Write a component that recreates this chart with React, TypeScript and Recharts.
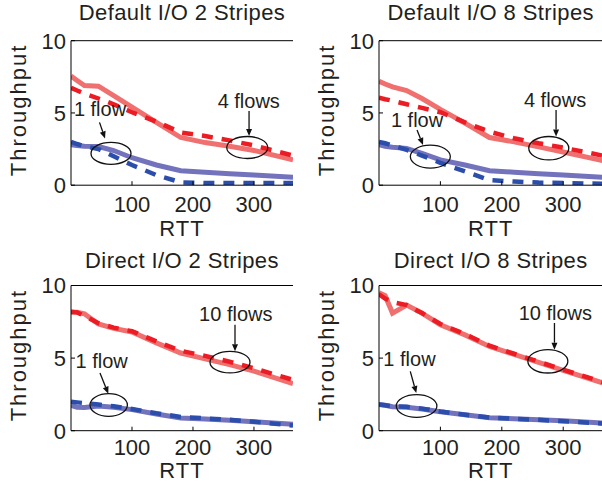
import React from 'react';
import { LineChart, Line, XAxis, YAxis, ReferenceDot } from 'recharts';

// ---------- data ----------
const RTT = [0, 10, 22, 45, 70, 100, 140, 180, 220, 260, 300, 364];
const X_TICKS = [100, 200, 300];
const Y_TICKS = [0, 5, 10];
const X_DOMAIN: [number, number] = [0, 364];
const Y_DOMAIN: [number, number] = [0, 10];

const TITLES = ['Default I/O 2 Stripes', 'Default I/O 8 Stripes', 'Direct I/O 2 Stripes', 'Direct I/O 8 Stripes'];
const X_LABEL = 'RTT';
const Y_LABEL = 'Throughput';

// Default I/O 2 Stripes
const aRedSolid = [7.55, 7.25, 6.9, 6.85, 6.2, 5.4, 4.35, 3.3, 2.95, 2.7, 2.4, 1.75];
const aRedDash = [6.75, 6.55, 6.35, 6.0, 5.6, 5.05, 4.4, 3.65, 3.4, 3.1, 2.75, 2.05];
const aBlueSolid = [2.8, 2.75, 2.7, 2.68, 2.4, 1.9, 1.4, 1.0, 0.9, 0.8, 0.7, 0.55];
const aBlueDash = [3.0, 2.85, 2.7, 2.5, 2.0, 1.4, 0.7, 0.2, 0.15, 0.15, 0.15, 0.15];

// Default I/O 8 Stripes
const bRedSolid = [7.2, 7.0, 6.8, 6.55, 6.0, 5.25, 4.3, 3.3, 3.0, 2.65, 2.3, 1.7];
const bRedDash = [6.05, 5.95, 5.85, 5.6, 5.35, 5.05, 4.35, 3.7, 3.25, 2.9, 2.6, 2.05];
const bBlueSolid = [2.8, 2.7, 2.62, 2.55, 2.2, 1.75, 1.4, 1.0, 0.9, 0.8, 0.7, 0.55];
const bBlueDash = [3.0, 2.9, 2.75, 2.45, 2.05, 1.55, 0.95, 0.35, 0.25, 0.18, 0.15, 0.1];

// Direct I/O 2 Stripes
const cRedSolid = [8.15, 8.15, 8.05, 7.35, 7.05, 6.8, 6.05, 5.35, 4.95, 4.55, 4.1, 3.25];
const cRedDash = [8.2, 8.15, 7.9, 7.4, 7.1, 6.85, 6.15, 5.5, 5.15, 4.75, 4.3, 3.5];
const cBlueSolid = [1.75, 1.62, 1.6, 1.7, 1.62, 1.45, 1.15, 0.88, 0.8, 0.72, 0.62, 0.45];
const cBlueDash = [2.0, 1.95, 1.9, 1.8, 1.68, 1.5, 1.2, 0.95, 0.85, 0.75, 0.62, 0.35];

// Direct I/O 8 Stripes
const dRedSolid = [9.5, 9.3, 8.1, 8.65, 8.1, 7.3, 6.6, 5.8, 5.25, 4.7, 4.15, 3.3];
const dRedDash = [9.4, 9.1, 8.85, 8.65, 8.1, 7.35, 6.65, 5.85, 5.3, 4.75, 4.2, 3.35];
const dBlueSolid = [1.8, 1.75, 1.65, 1.62, 1.5, 1.3, 1.1, 0.9, 0.82, 0.75, 0.68, 0.52];
const dBlueDash = [1.8, 1.75, 1.68, 1.65, 1.52, 1.32, 1.1, 0.9, 0.82, 0.75, 0.65, 0.5];

// annotation labels and their ellipse centres (data units)
const aNotes = [
  { text: '1 flow', x: 65.6, y: 2.2 },
  { text: '4 flows', x: 289, y: 2.61 },
];
const bNotes = [
  { text: '1 flow', x: 83.6, y: 1.98 },
  { text: '4 flows', x: 276.5, y: 2.56 },
];
const cNotes = [
  { text: '1 flow', x: 61.8, y: 1.77 },
  { text: '10 flows', x: 260.7, y: 4.72 },
];
const dNotes = [
  { text: '1 flow', x: 61.2, y: 1.7 },
  { text: '10 flows', x: 275, y: 4.78 },
];

// ---------- styling / layout ----------
const FONT = '"Liberation Sans", Arial, Helvetica, sans-serif';
const TEXT = '#231f20';
const RED_SOLID = '#f07070';
const RED_DASH = '#ec1c24';
const BLUE_SOLID = '#7373bd';
const BLUE_DASH = '#2b4ead';

// per-annotation pixel offsets (style): ellipse radii, text offset, arrow
const NOTE_STYLE = [
  [
    { rx: 20, ry: 11, tx: -11, ty: -37, ax1: -11.5, ay1: -31, ax2: -6, ay2: -15 },
    { rx: 20.5, ry: 11, tx: 1.5, ty: -39.5, ax1: 1.8, ay1: -36.5, ax2: 1.8, ay2: -11.5 },
  ],
  [
    { rx: 20, ry: 11.5, tx: -13.3, ty: -30, ax1: -13.3, ay1: -26.7, ax2: -7.3, ay2: -11.7 },
    { rx: 20, ry: 11.7, tx: 6.3, ty: -41.6, ax1: 7.3, ay1: -38.3, ax2: 7.3, ay2: -11.7 },
  ],
  [
    { rx: 18.7, ry: 11.3, tx: -7, ty: -37, ax1: -8.7, ay1: -32, ax2: -0.4, ay2: -11.3 },
    { rx: 20, ry: 10.8, tx: 5.8, ty: -41, ax1: 5, ay1: -37.5, ax2: 5, ay2: -11 },
  ],
  [
    { rx: 20.3, ry: 11.3, tx: -7.1, ty: -39.7, ax1: -6.3, ay1: -34.7, ax2: -0.3, ay2: -13 },
    { rx: 20, ry: 11.7, tx: 7.5, ty: -41.6, ax1: 6.6, ay1: -38.3, ax2: 6.6, ay2: -11.6 },
  ],
];

const LAYOUT = [
  { left: 0, top: 0, w: 300, h: 243, plotLeft: 71, plotTop: 40.7, plotW: 222, plotH: 144.5, titleOff: -28.7, rttOff: 43, tickM: 15 },
  { left: 300, top: 0, w: 304, h: 243, plotLeft: 79, plotTop: 40.7, plotW: 223.5, plotH: 144.5, titleOff: -28.7, rttOff: 43, tickM: 15 },
  { left: 0, top: 243, w: 300, h: 243, plotLeft: 71, plotTop: 42.5, plotW: 222, plotH: 145.2, titleOff: -25.8, rttOff: 39, tickM: 13 },
  { left: 300, top: 243, w: 304, h: 243, plotLeft: 79, plotTop: 42.5, plotW: 223.5, plotH: 145.2, titleOff: -25.8, rttOff: 39, tickM: 13 },
];

const SERIES = [
  [aRedSolid, aRedDash, aBlueSolid, aBlueDash],
  [bRedSolid, bRedDash, bBlueSolid, bBlueDash],
  [cRedSolid, cRedDash, cBlueSolid, cBlueDash],
  [dRedSolid, dRedDash, dBlueSolid, dBlueDash],
];
const NOTES = [aNotes, bNotes, cNotes, dNotes];

function buildRows(s: number[][]) {
  return RTT.map((r, i) => ({ rtt: r, rs: s[0][i], rd: s[1][i], bs: s[2][i], bd: s[3][i] }));
}

function NoteShape(props: any) {
  const { cx, cy, st, text } = props;
  if (cx == null || cy == null) return null;
  const x1 = cx + st.ax1, y1 = cy + st.ay1, x2 = cx + st.ax2, y2 = cy + st.ay2;
  const ang = Math.atan2(y2 - y1, x2 - x1);
  const L = 7, W = 3;
  const bx = x2 - L * Math.cos(ang), by = y2 - L * Math.sin(ang);
  const px = -Math.sin(ang) * W, py = Math.cos(ang) * W;
  return (
    <g>
      <ellipse cx={cx} cy={cy} rx={st.rx} ry={st.ry} fill="none" stroke="#111" strokeWidth={1.3} />
      <line x1={x1} y1={y1} x2={bx} y2={by} stroke="#111" strokeWidth={1.3} />
      <path d={`M${x2},${y2}L${bx + px},${by + py}L${bx - px},${by - py}Z`} fill="#111" />
      <text x={cx + st.tx} y={cy + st.ty} textAnchor="middle" fontSize={20} fontFamily={FONT} fill={TEXT}>
        {text}
      </text>
    </g>
  );
}

function Panel({ idx }: { idx: number }) {
  const L = LAYOUT[idx];
  const rows = buildRows(SERIES[idx]);
  const bottomH = L.h - L.plotTop - L.plotH;
  const rightM = L.w - L.plotLeft - L.plotW;
  const tickStyle = { fontSize: 22, fontFamily: FONT, fill: TEXT };
  return (
    <div style={{ position: 'absolute', left: L.left, top: L.top, width: L.w, height: L.h }}>
      <LineChart width={L.w} height={L.h} data={rows} margin={{ top: 0, right: rightM, bottom: 0, left: 0 }}>
        <XAxis
          xAxisId="b"
          dataKey="rtt"
          type="number"
          domain={X_DOMAIN}
          allowDataOverflow
          ticks={X_TICKS}
          height={bottomH}
          stroke="#000"
          tickSize={-4}
          tickMargin={L.tickM}
          tick={tickStyle}
          tickLine={{ stroke: '#000' }}
          label={{ value: X_LABEL, position: 'center', dy: L.rttOff - bottomH / 2, style: { fontSize: 22, fontFamily: FONT, fill: TEXT, letterSpacing: 1 } }}
        />
        <XAxis
          xAxisId="t"
          orientation="top"
          dataKey="rtt"
          type="number"
          domain={X_DOMAIN}
          allowDataOverflow
          ticks={X_TICKS}
          height={L.plotTop}
          stroke="#000"
          tickSize={-4}
          tick={false}
          tickLine={{ stroke: '#000' }}
          label={{ value: TITLES[idx], position: 'center', dy: L.plotTop / 2 + L.titleOff, style: { fontSize: 22, fontFamily: FONT, fill: TEXT, letterSpacing: 0.4 } }}
        />
        <YAxis
          yAxisId="l"
          type="number"
          domain={Y_DOMAIN}
          allowDataOverflow
          ticks={Y_TICKS}
          width={L.plotLeft}
          stroke="#000"
          tickSize={-4}
          tickMargin={9}
          tick={tickStyle}
          tickLine={{ stroke: '#000' }}
          label={{ value: Y_LABEL, position: 'center', angle: -90, dx: L.plotLeft / 2 - 53, dy: -3, style: { fontSize: 22, fontFamily: FONT, fill: TEXT, letterSpacing: 2 } }}
        />
        <YAxis
          yAxisId="r"
          orientation="right"
          type="number"
          domain={Y_DOMAIN}
          allowDataOverflow
          ticks={Y_TICKS}
          width={0}
          stroke="#000"
          tickSize={-4}
          tick={false}
          tickLine={{ stroke: '#000' }}
        />
        <Line xAxisId="b" yAxisId="l" dataKey="rs" type="linear" stroke={RED_SOLID} strokeWidth={5} dot={false} isAnimationActive={false} />
        <Line xAxisId="b" yAxisId="l" dataKey="rd" type="linear" stroke={RED_DASH} strokeWidth={4.5} strokeDasharray="11 9" dot={false} isAnimationActive={false} />
        <Line xAxisId="b" yAxisId="l" dataKey="bs" type="linear" stroke={BLUE_SOLID} strokeWidth={5} dot={false} isAnimationActive={false} />
        <Line xAxisId="b" yAxisId="l" dataKey="bd" type="linear" stroke={BLUE_DASH} strokeWidth={4.5} strokeDasharray="11 9" dot={false} isAnimationActive={false} />
        {NOTES[idx].map((n, i) => (
          <ReferenceDot
            key={i}
            xAxisId="b"
            yAxisId="l"
            x={n.x}
            y={n.y}
            r={0}
            ifOverflow="visible"
            shape={(p: any) => <NoteShape {...p} st={NOTE_STYLE[idx][i]} text={n.text} />}
          />
        ))}
      </LineChart>
    </div>
  );
}

export default function App() {
  return (
    <div style={{ position: 'absolute', left: 0, top: 0, width: 602, height: 486, background: '#fff', overflow: 'hidden' }}>
      {[0, 1, 2, 3].map((i) => (
        <Panel key={i} idx={i} />
      ))}
    </div>
  );
}
